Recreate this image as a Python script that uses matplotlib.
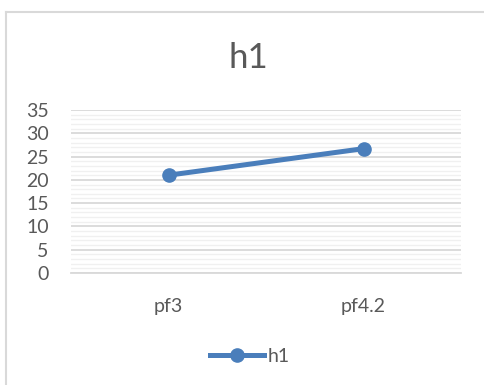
import matplotlib.pyplot as plt
from matplotlib.lines import Line2D
from matplotlib.ticker import MultipleLocator

categories = ['pf3', 'pf4.2']
h1_values = [21.0, 26.7]
y_ticks = [0, 5, 10, 15, 20, 25, 30, 35]

plt.rcParams['font.family'] = ['Lato', 'DejaVu Sans']
text_color = '#595959'
line_color = '#4a7ebb'

fig = plt.figure(figsize=(4.85, 3.85), dpi=100)
fig.patch.set_facecolor('white')

# chart frame (top and left edges visible)
fig.add_artist(Line2D([6.5 / 485, 6.5 / 485], [0, 1 - 12 / 385], color='#d9d9d9', lw=1.5))
fig.add_artist(Line2D([6.5 / 485, 1], [1 - 12 / 385, 1 - 12 / 385], color='#d9d9d9', lw=1.5))

ax = fig.add_axes([71 / 485, 1 - 273 / 385, 390 / 485, 163 / 385])
x = list(range(len(categories)))
ax.plot(x, h1_values, color=line_color, lw=3.6, marker='o', markersize=9.5,
        solid_capstyle='round', zorder=3)

ax.set_xlim(-0.5, len(categories) - 0.5)
ax.set_ylim(0, 35)
ax.set_yticks(y_ticks)
ax.yaxis.set_minor_locator(MultipleLocator(1))
ax.grid(True, which='major', axis='y', color='#d9d9d9', lw=1.3)
ax.grid(True, which='minor', axis='y', color='#f0f0f0', lw=1.0)
ax.set_axisbelow(True)

ax.set_xticks(x)
ax.set_xticklabels(categories)
ax.tick_params(axis='both', which='both', length=0, labelsize=14, colors=text_color)
ax.tick_params(axis='x', pad=18)
ax.tick_params(axis='y', pad=16)
for s in ax.spines.values():
    s.set_visible(False)
ax.spines['bottom'].set_visible(True)
ax.spines['bottom'].set_color('#d9d9d9')
ax.spines['bottom'].set_linewidth(1.3)

fig.text(248 / 485, 1 - 58 / 385, 'h1', ha='center', va='center', fontsize=25, color=text_color)

handle = Line2D([], [], color=line_color, lw=3.6, marker='o', markersize=9.5)
fig.legend([handle], ['h1'], loc='center', bbox_to_anchor=(250 / 485, 1 - 356 / 385),
           frameon=False, fontsize=14, labelcolor=text_color, handlelength=2.8,
           handletextpad=0.2)

fig.savefig('out.png', dpi=100, facecolor='white')
